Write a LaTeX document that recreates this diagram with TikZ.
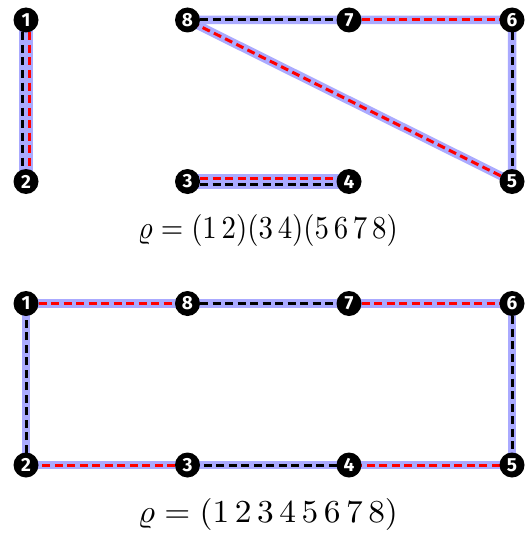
\documentclass[tikz,border=0pt]{standalone}
\usepackage{fontspec}
\usepackage{amsmath}
\usepackage{graphicx}
\newfontfamily\nodefont{Fira Sans}
\usetikzlibrary{backgrounds}
\definecolor{hl}{RGB}{170,170,255}
\tikzset{
  vtx/.style={circle, fill=black, inner sep=0pt, minimum size=25pt,
    text=white, font=\nodefont\bfseries\fontsize{19}{19}\selectfont},
  hlband/.style={draw=hl, line width=8.5pt},
  blk/.style={draw=black, line width=3pt, dash pattern=on 8pt off 4.5pt},
  rd/.style={draw=red, line width=3pt, dash pattern=on 8pt off 4.5pt},
  formula/.style={inner sep=0pt},
}
\begin{document}
\begin{tikzpicture}[x=1pt,y=-1pt]
\useasboundingbox (0,0) rectangle (532,535);
% top graph
\node[vtx] (t1) at (26,20) {1};
\node[vtx] (t2) at (26,181.5) {2};
\node[vtx] (t8) at (187.5,20) {8};
\node[vtx] (t7) at (349,20) {7};
\node[vtx] (t6) at (512,20) {6};
\node[vtx] (t3) at (187.5,181.5) {3};
\node[vtx] (t4) at (349,181.5) {4};
\node[vtx] (t5) at (512,181.5) {5};
% bottom graph
\node[vtx] (b1) at (26,303.5) {1};
\node[vtx] (b8) at (187.5,303.5) {8};
\node[vtx] (b7) at (349,303.5) {7};
\node[vtx] (b6) at (512,303.5) {6};
\node[vtx] (b2) at (26,465) {2};
\node[vtx] (b3) at (187.5,465) {3};
\node[vtx] (b4) at (349,465) {4};
\node[vtx] (b5) at (512,465) {5};
% formulas
\node[formula] (f1) at (268,230) {\resizebox{260pt}{24pt}{$\varrho = (1\mkern3mu 2)(3\mkern3mu 4)(5\mkern3mu 6\mkern3mu 7\mkern3mu 8)$}};
\node[formula] (f2) at (268,514.5) {\resizebox{260pt}{24pt}{$\varrho = (1\mkern3mu 2\mkern3mu 3\mkern3mu 4\mkern3mu 5\mkern3mu 6\mkern3mu 7\mkern3mu 8)$}};
\begin{scope}[on background layer]
  % highlight bands
  \path[hlband, transform canvas={xshift=-2.9pt}] (t1.center) -- (t2.center);
  \path[hlband, transform canvas={xshift=2.9pt}] (t1.center) -- (t2.center);
  \path[hlband, transform canvas={yshift=-2.9pt}] (t3.center) -- (t4.center);
  \path[hlband, transform canvas={yshift=2.9pt}] (t3.center) -- (t4.center);
  \path[hlband] (t8.center) -- (t7.center) -- (t6.center) -- (t5.center) -- (t8.center);
  \path[hlband] (b1.center) -- (b8.center) -- (b7.center) -- (b6.center) -- (b5.center) -- (b4.center) -- (b3.center) -- (b2.center) -- cycle;
  % top dashed
  \path[blk, transform canvas={xshift=-3.3pt}] (t1.center) -- (t2.center);
  \path[rd, transform canvas={xshift=3.3pt}] (t1.center) -- (t2.center);
  \path[rd, transform canvas={yshift=3.3pt}] (t3.center) -- (t4.center);
  \path[blk, transform canvas={yshift=-3.3pt}] (t3.center) -- (t4.center);
  \path[blk] (t8.center) -- (t7.center);
  \path[rd] (t7.center) -- (t6.center);
  \path[blk] (t6.center) -- (t5.center);
  \path[rd] (t5.center) -- (t8.center);
  % bottom dashed
  \path[rd] (b1.center) -- (b8.center);
  \path[blk] (b8.center) -- (b7.center);
  \path[rd] (b7.center) -- (b6.center);
  \path[blk] (b6.center) -- (b5.center);
  \path[rd] (b5.center) -- (b4.center);
  \path[blk] (b4.center) -- (b3.center);
  \path[rd] (b3.center) -- (b2.center);
  \path[blk] (b2.center) -- (b1.center);
\end{scope}
\end{tikzpicture}
\end{document}
